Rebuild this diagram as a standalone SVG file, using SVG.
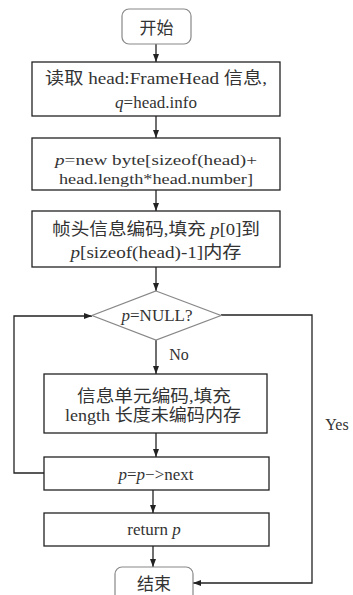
<svg xmlns="http://www.w3.org/2000/svg" width="353" height="595" viewBox="0 0 353 595">
<defs>
<marker id="ah" viewBox="0 0 8 6" refX="8" refY="3" markerWidth="8" markerHeight="6" markerUnits="userSpaceOnUse" orient="auto">
<path d="M0,0 L8,3 L0,6 z" fill="#222"/>
</marker>
</defs>
<style>
.box{fill:#fff;stroke:#222;stroke-width:1.3}
.term{fill:#fff;stroke:#888;stroke-width:1.2}
.dia{fill:#fff;stroke:#888;stroke-width:1.2}
.t{font-family:"Liberation Serif","Noto Sans CJK SC",serif;font-size:17px;fill:#333;text-anchor:middle}
.s{font-size:15.5px}
.i{font-style:italic}
.c{fill:none;stroke:#222;stroke-width:1.3;marker-end:url(#ah)}
</style>
<rect width="353" height="595" fill="#fff"/>
<g id="connectors">
<path class="c" d="M156,44 V62"/>
<path class="c" d="M156,116 V138"/>
<path class="c" d="M156,190 V211"/>
<path class="c" d="M156,267 V291"/>
<path class="c" d="M156,340 V374"/>
<path class="c" d="M156,433 V457"/>
<path class="c" d="M153,490 V513"/>
<path class="c" d="M153,546 V567"/>
<path class="c" d="M44,473 H14 V316 H92"/>
<path class="c" d="M221,315 H312 V583 H193"/>
<text class="t" x="179" y="360" style="font-size:16px">No</text>
<text class="t" x="337" y="430" style="font-size:16px">Yes</text>
</g>
<g id="start">
<rect class="term" x="122" y="9" width="69" height="35" rx="7"/>
<text class="t" x="156.5" y="34">开始</text>
</g>
<g id="read">
<rect class="box" x="32" y="62" width="248" height="54"/>
<text class="t" x="156" y="84" textLength="222" lengthAdjust="spacingAndGlyphs">读取 head:FrameHead 信息,</text>
<text class="t" x="156" y="108"><tspan class="i">q</tspan>=head.info</text>
</g>
<g id="alloc">
<rect class="box" x="32" y="138" width="248" height="52"/>
<text class="t s" x="156" y="165" textLength="202" lengthAdjust="spacingAndGlyphs"><tspan class="i">p</tspan>=new  byte[sizeof(head)+</text>
<text class="t s" x="156" y="184" textLength="194" lengthAdjust="spacingAndGlyphs">head.length*head.number]</text>
</g>
<g id="encodehead">
<rect class="box" x="32" y="211" width="248" height="56"/>
<text class="t" x="156" y="235" textLength="208" lengthAdjust="spacingAndGlyphs">帧头信息编码,填充 <tspan class="i">p</tspan>[0]到</text>
<text class="t" x="156" y="258" textLength="171" lengthAdjust="spacingAndGlyphs"><tspan class="i">p</tspan>[sizeof(head)-1]内存</text>
</g>
<g id="check">
<polygon class="dia" points="156,291 221,315.5 156,340 92,315.5"/>
<text class="t" x="157" y="321"><tspan class="i">p</tspan>=NULL?</text>
</g>
<g id="encodeunit">
<rect class="box" x="44" y="374" width="223" height="59"/>
<text class="t" x="154" y="402" textLength="154" lengthAdjust="spacingAndGlyphs">信息单元编码,填充</text>
<text class="t" x="153" y="421" textLength="176" lengthAdjust="spacingAndGlyphs">length 长度未编码内存</text>
</g>
<g id="next">
<rect class="box" x="44" y="457" width="225" height="33"/>
<text class="t" x="156" y="480"><tspan class="i">p</tspan>=<tspan class="i">p</tspan>−&gt;next</text>
</g>
<g id="return">
<rect class="box" x="44" y="513" width="225" height="33"/>
<text class="t" x="154" y="535">return  <tspan class="i">p</tspan></text>
</g>
<g id="end">
<rect class="term" x="115" y="567" width="78" height="40" rx="7"/>
<text class="t" x="154" y="590">结束</text>
</g>
</svg>
